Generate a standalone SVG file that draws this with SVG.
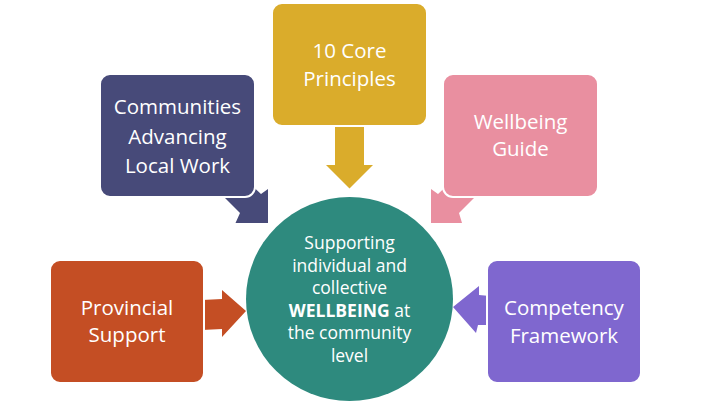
<svg xmlns="http://www.w3.org/2000/svg" width="720" height="405" viewBox="0 0 720 405">
<style>
.box{stroke:#ffffff;stroke-width:2}
.t{font-family:"Open Sans","Liberation Sans",sans-serif;fill:#ffffff;text-anchor:middle}
.bt{font-size:20.5px}
.ct{font-size:17.5px}
</style>
<rect width="720" height="405" fill="#ffffff"/>
<g id="connectors">
<polygon fill="#DAAC2B" points="335,124 364,124 364,165 373,165 349.5,188.5 326,165 335,165"/>
<polygon fill="#474A79" points="230,165 261,194 268,189 268,223 235.5,223 240,213 210,183"/>
<polygon fill="#E98FA0" points="469,165 438,194 431,189 431,223 462,223 459,213 489,183"/>
<polygon fill="#C44E24" points="202,300 222,299 222,290 246,311 222,337 222,329 202,330"/>
<polygon fill="#7F67CF" points="490,296 479,295 479,286 453,307 476,333 478,325 490,325"/>
</g>
<g id="n-center">
<ellipse cx="349.5" cy="299" rx="103.5" ry="102" fill="#2E8A7E"/>
<text class="t ct" x="349.5" y="249">Supporting</text>
<text class="t ct" x="349.5" y="271.5">individual and</text>
<text class="t ct" x="349.5" y="294">collective</text>
<text class="t ct" x="349.5" y="316.5"><tspan font-weight="bold">WELLBEING</tspan> at</text>
<text class="t ct" x="349.5" y="339">the community</text>
<text class="t ct" x="349.5" y="361.5">level</text>
</g>
<g id="n-communities">
<rect class="box" x="100" y="74" width="155" height="123" rx="10" fill="#474A79"/>
<text class="t bt" x="177.5" y="114">Communities</text>
<text class="t bt" x="177.5" y="143.5">Advancing</text>
<text class="t bt" x="177.5" y="173">Local Work</text>
</g>
<g id="n-core">
<rect class="box" x="272" y="3" width="155" height="123" rx="10" fill="#DAAC2B"/>
<text class="t bt" x="349.5" y="58.3">10 Core</text>
<text class="t bt" x="349.5" y="85.5">Principles</text>
</g>
<g id="n-wellbeing">
<rect class="box" x="443" y="74" width="155" height="123" rx="10" fill="#E98FA0"/>
<text class="t bt" x="520.5" y="129">Wellbeing</text>
<text class="t bt" x="520.5" y="155.5">Guide</text>
</g>
<g id="n-provincial">
<rect class="box" x="50" y="260" width="154" height="123" rx="10" fill="#C44E24"/>
<text class="t bt" x="127" y="315">Provincial</text>
<text class="t bt" x="127" y="341.7">Support</text>
</g>
<g id="n-competency">
<rect class="box" x="487" y="260" width="154" height="123" rx="10" fill="#7F67CF"/>
<text class="t bt" x="564" y="315">Competency</text>
<text class="t bt" x="564" y="342.5">Framework</text>
</g>
</svg>
